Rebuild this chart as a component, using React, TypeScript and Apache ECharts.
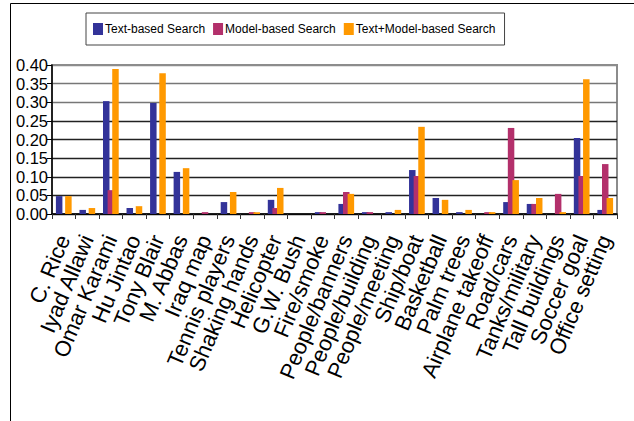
import React, { useEffect, useRef } from "react";
import * as echarts from "echarts";

const categories = [
  "C. Rice", "Iyad Allawi", "Omar Karami", "Hu Jintao", "Tony Blair", "M. Abbas",
  "Iraq map", "Tennis players", "Shaking hands", "Helicopter", "G.W. Bush", "Fire/smoke",
  "People/banners", "People/building", "People/meeting", "Ship/boat", "Basketball",
  "Palm trees", "Airplane takeoff", "Road/cars", "Tanks/military", "Tall buildings",
  "Soccer goal", "Office setting",
];

const textBased = [
  0.048, 0.011, 0.303, 0.016, 0.298, 0.113, 0, 0.032, 0, 0.038, 0, 0.005,
  0.027, 0.005, 0.005, 0.118, 0.043, 0.005, 0, 0.032, 0.027, 0, 0.204, 0.011,
];
const modelBased = [
  0, 0, 0.064, 0, 0, 0, 0.005, 0, 0.005, 0.016, 0, 0.005,
  0.059, 0.005, 0, 0.102, 0, 0, 0.005, 0.231, 0.027, 0.054, 0.102, 0.134,
];
const combined = [
  0.048, 0.016, 0.389, 0.021, 0.378, 0.123, 0, 0.059, 0.005, 0.07, 0, 0,
  0.054, 0, 0.011, 0.234, 0.038, 0.011, 0.005, 0.091, 0.043, 0.005, 0.362, 0.043,
];

const seriesNames = ["Text-based Search", "Model-based Search", "Text+Model-based Search"];
const colors = ["#333399", "#B3306B", "#FF9900"];

export default function App() {
  const ref = useRef<HTMLDivElement>(null);
  useEffect(() => {
    if (!ref.current) return;
    const chart = echarts.init(ref.current, null, { renderer: "svg" });
    const font = "'Liberation Sans', Arial, sans-serif";
    const mk = (name: string, data: number[], color: string) => ({
      name,
      type: "bar",
      data,
      barWidth: 6.5,
      barGap: "-29%",
      itemStyle: { color },
    });
    chart.setOption({
      animation: false,
      textStyle: { fontFamily: font },
      legend: {
        left: 86,
        top: 13,
        padding: [10, 9, 10, 7],
        itemWidth: 10,
        itemHeight: 12,
        itemGap: 8,
        borderColor: "#444",
        borderWidth: 1,
        icon: "rect",
        textStyle: { fontSize: 12, color: "#000", fontFamily: font, padding: [0, 0, 0, -3] },
        data: seriesNames,
      },
      grid: {
        left: 52,
        right: 17,
        top: 65,
        bottom: 207,
        show: true,
        borderColor: "#8c8c8c",
        borderWidth: 2,
      },
      xAxis: {
        type: "category",
        data: categories,
        axisLine: { lineStyle: { color: "#000", width: 1.5 } },
        axisTick: { show: true, interval: 0, length: 5, lineStyle: { color: "#333" } },
        axisLabel: {
          interval: 0,
          rotate: 67,
          margin: 22,
          fontSize: 22,
          color: "#000",
          fontFamily: font,
        },
      },
      yAxis: {
        type: "value",
        min: 0,
        max: 0.4,
        interval: 0.05,
        axisLine: { show: true, lineStyle: { color: "#000", width: 1.5 } },
        axisTick: { show: true, length: 5, lineStyle: { color: "#000" } },
        splitLine: {
          show: true,
          lineStyle: {
            width: 1.3,
            color: ["#222", "#222", "#222", "#222", "#222", "#222", "#777", "#777", "#8c8c8c"],
          },
        },
        axisLabel: {
          fontSize: 16.5,
          color: "#000",
          margin: 4,
          fontFamily: font,
          formatter: (v: number) => v.toFixed(2),
        },
      },
      graphic: [
        { type: "line", shape: { x1: 10.5, y1: 3.5, x2: 10.5, y2: 421 }, style: { stroke: "#000", lineWidth: 1 } },
        { type: "line", shape: { x1: 10.5, y1: 3.5, x2: 634, y2: 3.5 }, style: { stroke: "#000", lineWidth: 1 } },
      ],
      series: [
        mk(seriesNames[0], textBased, colors[0]),
        mk(seriesNames[1], modelBased, colors[1]),
        mk(seriesNames[2], combined, colors[2]),
      ],
    });
    return () => chart.dispose();
  }, []);
  return (
    <div
      ref={ref}
      style={{ position: "fixed", left: 0, top: 0, width: 634, height: 421, background: "#fff" }}
    />
  );
}
